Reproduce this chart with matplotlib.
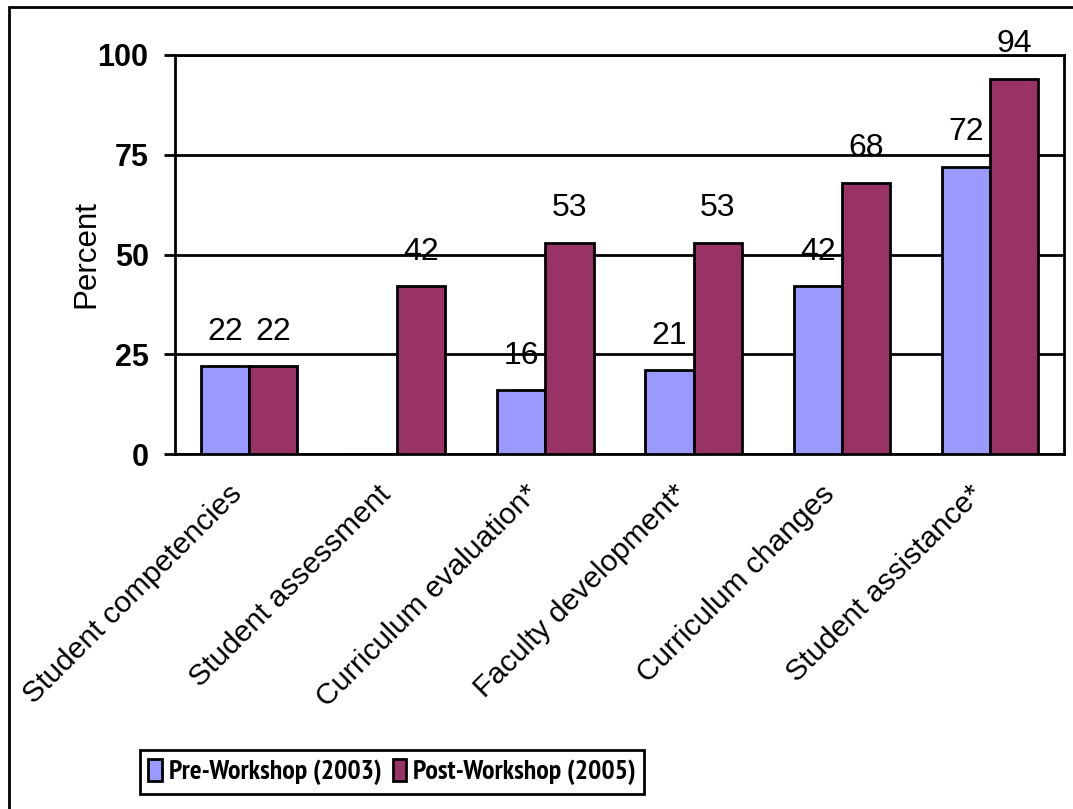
import matplotlib
matplotlib.use("Agg")
import matplotlib.pyplot as plt
import matplotlib.transforms as mtransforms
from matplotlib.patches import Rectangle
import numpy as np

categories = ["Student competencies", "Student assessment", "Curriculum evaluation*",
              "Faculty development*", "Curriculum changes", "Student assistance*"]
pre_2003 = [22, 0, 16, 21, 42, 72]
post_2005 = [22, 42, 53, 53, 68, 94]
yticks = [0, 25, 50, 75, 100]

plt.rcParams['font.family'] = ['Liberation Sans', 'DejaVu Sans']

fig = plt.figure(figsize=(10.73, 8.09), dpi=100)
ax = fig.add_axes([175/1073, 1-454/809, (1064-175)/1073, (454-55)/809])

x = np.arange(len(categories))
w = 0.325
b1 = ax.bar(x - w/2, pre_2003, w, color='#9999FF', edgecolor='black', linewidth=2,
            label='Pre-Workshop (2003)', zorder=3)
b2 = ax.bar(x + w/2, post_2005, w, color='#993366', edgecolor='black', linewidth=2,
            label='Post-Workshop (2005)', zorder=3)

# value labels above the bars (no label for the empty bar)
for bars, vals in ((b1, pre_2003), (b2, post_2005)):
    for r, v in zip(bars, vals):
        if v == 0:
            continue
        ax.annotate(str(v), (r.get_x() + r.get_width()/2, v), xytext=(0, 14),
                    textcoords='offset points', ha='center', va='bottom', fontsize=23)

ax.set_xlim(-0.5, len(categories) - 0.5)
ax.set_ylim(0, 100)
ax.set_yticks(yticks)
ax.set_yticklabels([str(t) for t in yticks], fontsize=22, fontweight='bold')
ax.yaxis.grid(True, color='black', linewidth=2, zorder=0)
ax.set_axisbelow(True)
ax.tick_params(axis='y', length=8, width=2, pad=11)
ax.tick_params(axis='x', length=0)
for s in ax.spines.values():
    s.set_linewidth(2)
ax.set_ylabel("Percent", fontsize=22.5)
ax.yaxis.set_label_coords(-0.083, 0.5)

ax.set_xticks(x)
ax.set_xticklabels(categories, fontsize=21.5, rotation=45, ha='right',
                   rotation_mode='anchor')
ax.tick_params(axis='x', pad=28)
shift = mtransforms.ScaledTranslation(-0.21, 0.13, fig.dpi_scale_trans)
for lbl in ax.get_xticklabels():
    lbl.set_transform(lbl.get_transform() + shift)

leg_font = {'family': ['Liberation Sans Narrow', 'PT Sans Narrow', 'Liberation Sans'],
            'weight': 'bold', 'size': 20}
leg = fig.legend(handles=[b1, b2], loc='center', bbox_to_anchor=(392/1073, 1-772/809),
                 ncol=2, prop=leg_font, frameon=True, fancybox=False, framealpha=1,
                 edgecolor='black', handlelength=0.5, handleheight=0.85,
                 handletextpad=0.25, columnspacing=0.4, borderpad=0.3)
leg.get_frame().set_linewidth(2)

# outer frame of the original chart (only top and left edges are inside the image)
fig.patches.append(Rectangle((9/1073, -0.1), 1.2, 1.1 - 7/809, transform=fig.transFigure,
                             fill=False, edgecolor='black', linewidth=2))

fig.savefig("out.png", dpi=100)
